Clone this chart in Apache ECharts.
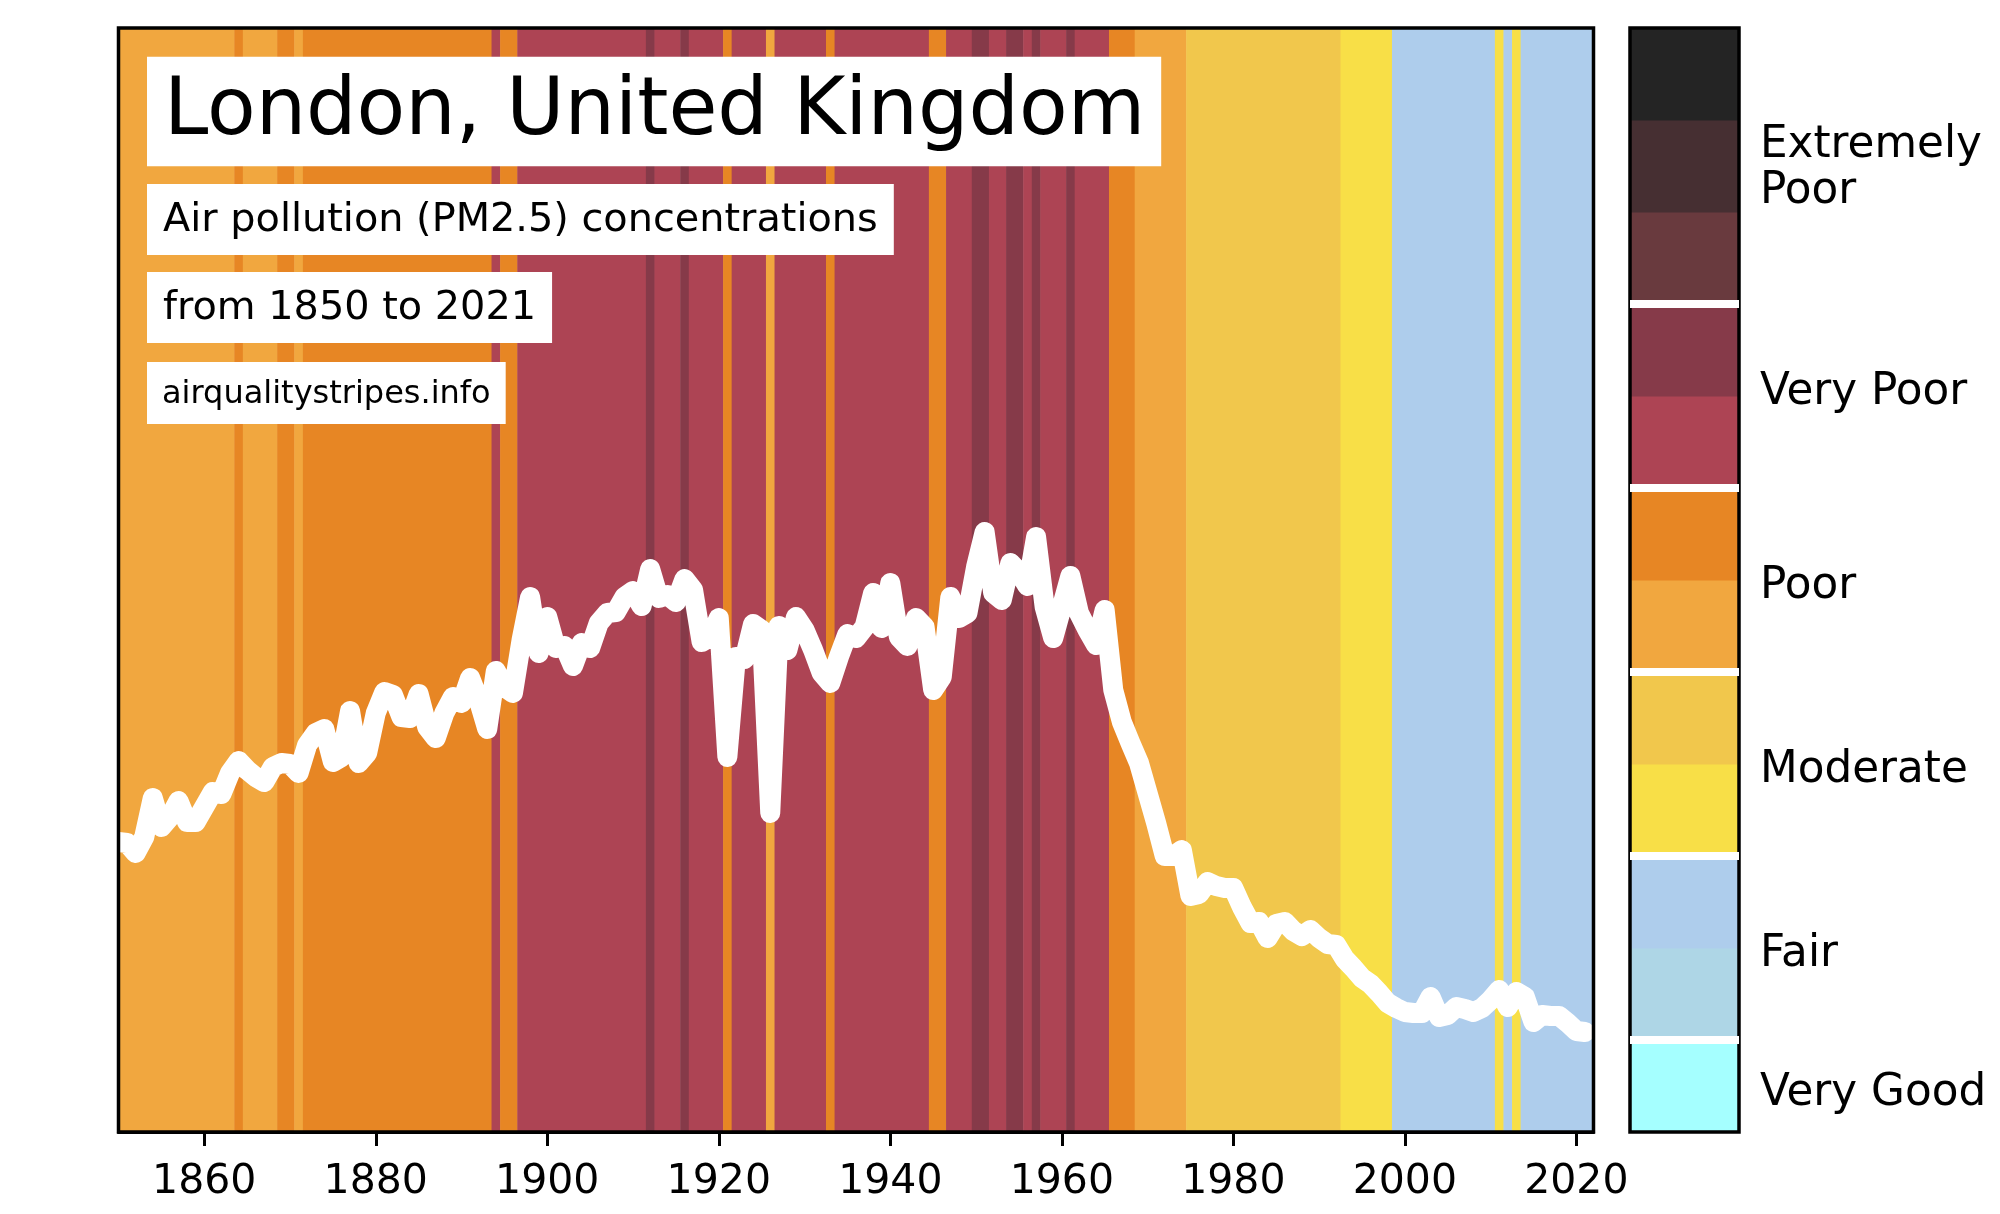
<!DOCTYPE html>
<html>
<head>
<meta charset="utf-8">
<script src="https://cdn.jsdelivr.net/npm/echarts@6/dist/echarts.min.js"></script>
<style>
  html, body { margin: 0; padding: 0; background: #fff; }
  #chart { width: 2000px; height: 1214px; }
</style>
</head>
<body>
<div id="chart"></div>
<script>
// PM2.5 reading per year, 1850 onwards
var firstYear = 1850;
var pmValues = [
  29.0, 28.9, 27.9, 29.5, 33.4, 30.5, 31.5, 33.1, 31.0, 31.0,
  32.5, 34.0, 33.8, 35.9, 37.1, 36.2, 35.5, 35.0, 36.5, 36.9,
  36.8, 35.9, 38.7, 39.9, 40.3, 37.0, 37.5, 42.1, 36.9, 37.9,
  41.9, 44.0, 43.7, 41.5, 41.4, 43.8, 40.5, 39.4, 41.9, 43.5,
  42.9, 45.4, 43.2, 40.3, 46.1, 44.5, 43.9, 49.2, 53.5, 47.9,
  51.5, 48.4, 48.6, 46.6, 48.9, 48.4, 50.9, 51.9, 52.0, 53.5,
  54.1, 52.6, 56.3, 53.4, 53.7, 53.0, 55.3, 54.2, 49.0, 49.5,
  51.4, 37.5, 47.5, 47.3, 50.8, 50.2, 31.9, 50.6, 48.2, 51.5,
  50.2, 48.2, 45.9, 44.9, 47.5, 49.8, 49.4, 50.5, 53.9, 50.4,
  54.9, 49.5, 48.6, 51.4, 50.5, 44.2, 45.5, 53.5, 51.4, 51.9,
  56.5, 60.0, 53.9, 53.2, 56.9, 56.0, 54.6, 59.5, 52.5, 49.4,
  52.5, 55.6, 51.9, 50.2, 48.7, 52.2, 44.2, 41.0, 38.9, 36.9,
  33.9, 30.9, 27.6, 27.6, 28.2, 23.6, 23.8, 25.0, 24.6, 24.4,
  24.4, 22.5, 20.9, 21.0, 19.4, 20.8, 21.0, 20.1, 19.6, 20.2,
  19.4, 18.8, 18.7, 17.3, 16.4, 15.4, 14.8, 13.9, 12.9, 12.4,
  12.0, 11.9, 11.9, 13.5, 11.5, 11.7, 12.5, 12.3, 12.0, 12.4,
  13.2, 14.2, 12.5, 14.0, 13.5, 11.0, 11.7, 11.6, 11.6, 10.9,
  10.1, 10.0
];

// stripes: first year of each run and its colour level
var stripeStarts = [
  1850, 1864, 1865, 1869, 1871, 1872, 1894, 1895, 1897, 1912,
  1913, 1916, 1917, 1921, 1922, 1926, 1927, 1933, 1934, 1945,
  1947, 1950, 1952, 1954, 1956, 1957, 1958, 1961, 1962, 1966,
  1969, 1975, 1993, 1999, 2011, 2012, 2013, 2014
];
var stripeLevels = [
  5, 6, 5, 6, 5, 6, 7, 6, 7, 8,
  7, 8, 7, 6, 7, 5, 7, 6, 7, 6,
  7, 8, 7, 8, 7, 8, 7, 8, 7, 6,
  5, 4, 3, 2, 3, 2, 3, 2
];
var stripesEnd = 2023;

// colour scale, lowest level first
var levelColors = [
  '#a5ffff', '#aed6e6', '#aecdec', '#f8df47', '#f1c74c', '#f1a73f',
  '#e78624', '#ad4454', '#863a49', '#693a3e', '#462f32', '#242424'
];
var levelGaps = [1, 3, 5, 7, 9];
var levelNames = ['Very Good', 'Fair', 'Moderate', 'Poor', 'Very Poor', 'Extremely\nPoor'];
var levelNamePositions = [0.42, 1.93, 3.93, 5.93, 8.04, 10.47];

var yearTicks = [1860, 1880, 1900, 1920, 1940, 1960, 1980, 2000, 2020];

var fontName = '"DejaVu Sans"';

var lineData = pmValues.map(function (v, i) { return [firstYear + i, v]; });
var stripeData = stripeStarts.map(function (start, i) {
  var end = i + 1 < stripeStarts.length ? stripeStarts[i + 1] : stripesEnd;
  return [start - 0.5, end - 0.5, stripeLevels[i]];
});
var scaleData = levelColors.map(function (c, i) { return [i, i + 1, i]; });

function renderStripe(params, api) {
  var x0 = api.coord([api.value(0), 0])[0];
  var x1 = api.coord([api.value(1), 0])[0];
  return {
    type: 'rect',
    shape: { x: x0, y: params.coordSys.y, width: x1 - x0 + 0.5, height: params.coordSys.height },
    style: { fill: levelColors[api.value(2)] }
  };
}

function renderScaleCell(params, api) {
  var y0 = api.coord([0, api.value(0)])[1];
  var y1 = api.coord([0, api.value(1)])[1];
  return {
    type: 'rect',
    shape: { x: params.coordSys.x, y: y1, width: params.coordSys.width, height: y0 - y1 + 0.5 },
    style: { fill: levelColors[api.value(2)] }
  };
}

function textBox(text, top, size, padding) {
  return {
    text: text,
    left: 147,
    top: top,
    backgroundColor: '#fff',
    padding: padding,
    textStyle: { color: '#000', fontFamily: fontName, fontWeight: 'normal', fontSize: size, lineHeight: size }
  };
}

var chart = echarts.init(document.getElementById('chart'));
chart.setOption({
  animation: false,
  backgroundColor: '#fff',
  title: [
    textBox('London, United Kingdom', 57, 79.6, [16.5, 16, 12.9, 17]),
    textBox('Air pollution (PM2.5) concentrations', 184, 39.8, [17, 16, 14.2, 16]),
    textBox('from 1850 to 2021', 272, 39.8, [17, 16, 14.2, 16]),
    textBox('airqualitystripes.info', 362, 32, [17, 15, 13, 15])
  ],
  grid: [
    { left: 118.5, top: 28, width: 1475, height: 1104, show: true, borderColor: '#000', borderWidth: 3.5, backgroundColor: 'transparent', z: 5 },
    { left: 1630, top: 28, width: 109, height: 1104, show: true, borderColor: '#000', borderWidth: 3.5, backgroundColor: 'transparent', z: 5 }
  ],
  xAxis: [
    {
      type: 'value', gridIndex: 0, min: firstYear, max: 2022,
      splitLine: { show: false },
      axisLine: { show: true, lineStyle: { color: '#000', width: 3 } },
      axisTick: { show: true, customValues: yearTicks, length: 14, lineStyle: { color: '#000', width: 3 } },
      axisLabel: { show: true, customValues: yearTicks, color: '#000', fontFamily: fontName, fontSize: 41, margin: 30, formatter: function (v) { return String(v); } }
    },
    { type: 'value', gridIndex: 1, min: 0, max: 1, show: false }
  ],
  yAxis: [
    { type: 'value', gridIndex: 0, min: 0, max: 110.4, show: false },
    {
      type: 'value', gridIndex: 1, min: 0, max: 12, position: 'right',
      splitLine: { show: false },
      axisLine: { show: false },
      axisTick: { show: false },
      axisLabel: {
        customValues: levelNamePositions,
        color: '#000', fontFamily: fontName, fontSize: 43.7, lineHeight: 46, margin: 21,
        formatter: function (v) { return levelNames[levelNamePositions.indexOf(v)]; }
      }
    }
  ],
  series: [
    {
      type: 'custom', name: 'stripes', xAxisIndex: 0, yAxisIndex: 0, z: 1, clip: true,
      encode: { x: [0, 1] }, data: stripeData, renderItem: renderStripe, silent: true
    },
    {
      type: 'line', name: 'PM2.5', xAxisIndex: 0, yAxisIndex: 0, z: 2, showSymbol: false, clip: true,
      data: lineData,
      lineStyle: { color: '#fff', width: 20, cap: 'round', join: 'round' }
    },
    {
      type: 'custom', name: 'scale', xAxisIndex: 1, yAxisIndex: 1, z: 1, clip: true,
      encode: { y: [0, 1] }, data: scaleData, renderItem: renderScaleCell, silent: true,
      markLine: {
        silent: true, symbol: 'none', animation: false,
        label: { show: false },
        lineStyle: { color: '#fff', width: 8, type: 'solid' },
        data: levelGaps.map(function (v) { return { yAxis: v }; })
      }
    }
  ]
});
</script>
</body>
</html>
